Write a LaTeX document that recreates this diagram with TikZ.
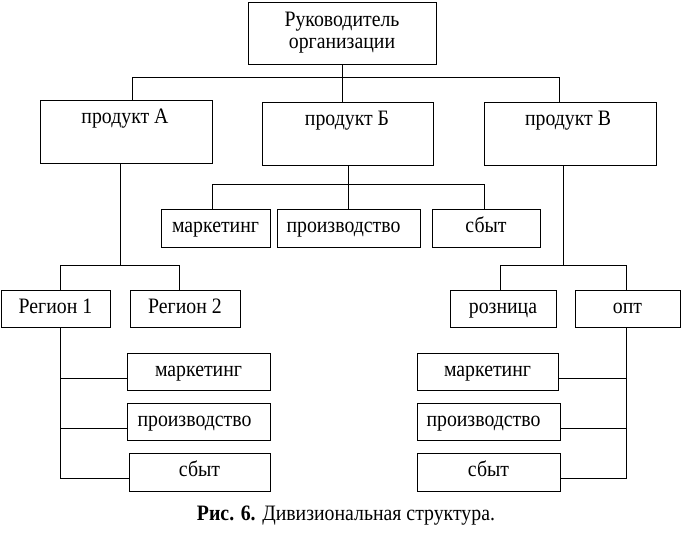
\documentclass[tikz,border=0pt]{standalone}
\usepackage{fontspec}
\setmainfont[FakeStretch=0.9]{Liberation Serif}
\begin{document}
\begin{tikzpicture}[x=1pt,y=-1pt,
  box/.style={draw=black, line width=1pt, inner sep=0pt, rectangle, text height=15pt, text depth=5.5pt},
  lbl/.style={inner sep=0pt, anchor=base},
  conn/.style={draw=black, line width=1pt},
  every node/.style={font=\fontsize{22}{22}\selectfont}]
\useasboundingbox[fill=white] (0,0) rectangle (681,536);
% top
\node[draw=black, line width=1pt, inner sep=0pt, minimum width=188, minimum height=62, align=center] (top) at (342,33) {Руководитель\\организации};
% products
\node[box, minimum width=172, minimum height=63] (pA) at (126,131.5) {};
\node[box, minimum width=171, minimum height=63] (pB) at (347.5,133.5) {};
\node[box, minimum width=172, minimum height=63] (pV) at (570,133.5) {};
\node[lbl] (tA) at (125,123) {продукт А};
\node[lbl] (tB) at (347,125) {продукт Б};
\node[lbl] (tV) at (568,125) {продукт В};
% B functions
\node[box, minimum width=109, minimum height=38] (bM) at (215.5,228) {маркетинг};
\node[box, minimum width=143, minimum height=38] (bP) at (348.5,228) {производство\hspace*{10pt}};
\node[box, minimum width=108, minimum height=38] (bS) at (486,228) {сбыт};
% regions
\node[box, minimum width=109, minimum height=37] (r1) at (55.5,308.5) {Регион 1};
\node[box, minimum width=110, minimum height=37] (r2) at (185,308.5) {Регион 2};
\node[box, minimum width=106, minimum height=37] (rz) at (503,308.5) {розница};
\node[box, minimum width=105, minimum height=37] (opt) at (627.5,308.5) {опт};
% left functions
\node[box, minimum width=143, minimum height=37] (lM) at (198.5,371.5) {маркетинг};
\node[box, minimum width=143, minimum height=37] (lP) at (198.5,421.5) {производство\hspace*{8pt}};
\node[box, minimum width=141, minimum height=38] (lS) at (199.5,472) {сбыт};
% right functions
\node[box, minimum width=141, minimum height=37] (rM) at (487.5,371.5) {маркетинг};
\node[box, minimum width=143, minimum height=37] (rP) at (488.5,421.5) {производство\hspace*{10pt}};
\node[box, minimum width=143, minimum height=38] (rS) at (488.5,472) {сбыт};
% caption
\node[inner sep=0pt] (cap) at (346,516) {\textbf{Рис. 6.} Дивизиональная структура.};
% bus coordinates
\coordinate (aJ) at (132,77);
\coordinate (vJ) at (559,77);
\coordinate (bL) at (212,184);
\coordinate (bR) at (484,184);
\coordinate (aD) at (120,265);
\coordinate (aL) at (60,265);
\coordinate (aR) at (179,265);
\coordinate (vD) at (563,265);
\coordinate (vL) at (500,265);
\coordinate (vR) at (626,265);
\coordinate (lBot) at (60,478);
\coordinate (rBot) at (626,478);
% connectors: top level
\draw[conn] (top.south) -- (top.south |- pB.north);
\draw[conn] (aJ |- pA.north) -- (aJ) -- (vJ) -- (vJ |- pV.north);
% product A
\draw[conn] (pA.south -| aD) -- (aD);
\draw[conn] (aL |- r1.north) -- (aL) -- (aR) -- (aR |- r2.north);
% product B
\draw[conn] (pB.south -| bP.north) -- (bP.north);
\draw[conn] (bL |- bM.north) -- (bL) -- (bR) -- (bR |- bS.north);
% product V
\draw[conn] (pV.south -| vD) -- (vD);
\draw[conn] (vL |- rz.north) -- (vL) -- (vR) -- (vR |- opt.north);
% left functions
\draw[conn] (r1.south -| lBot) -- (lBot) -- (lBot -| lS.west);
\draw[conn] (60,378) -- (lM.west |- 0,378);
\draw[conn] (60,428) -- (lP.west |- 0,428);
% right functions
\draw[conn] (opt.south -| rBot) -- (rBot) -- (rBot -| rS.east);
\draw[conn] (626,378) -- (rM.east |- 0,378);
\draw[conn] (626,428) -- (rP.east |- 0,428);
\end{tikzpicture}
\end{document}
